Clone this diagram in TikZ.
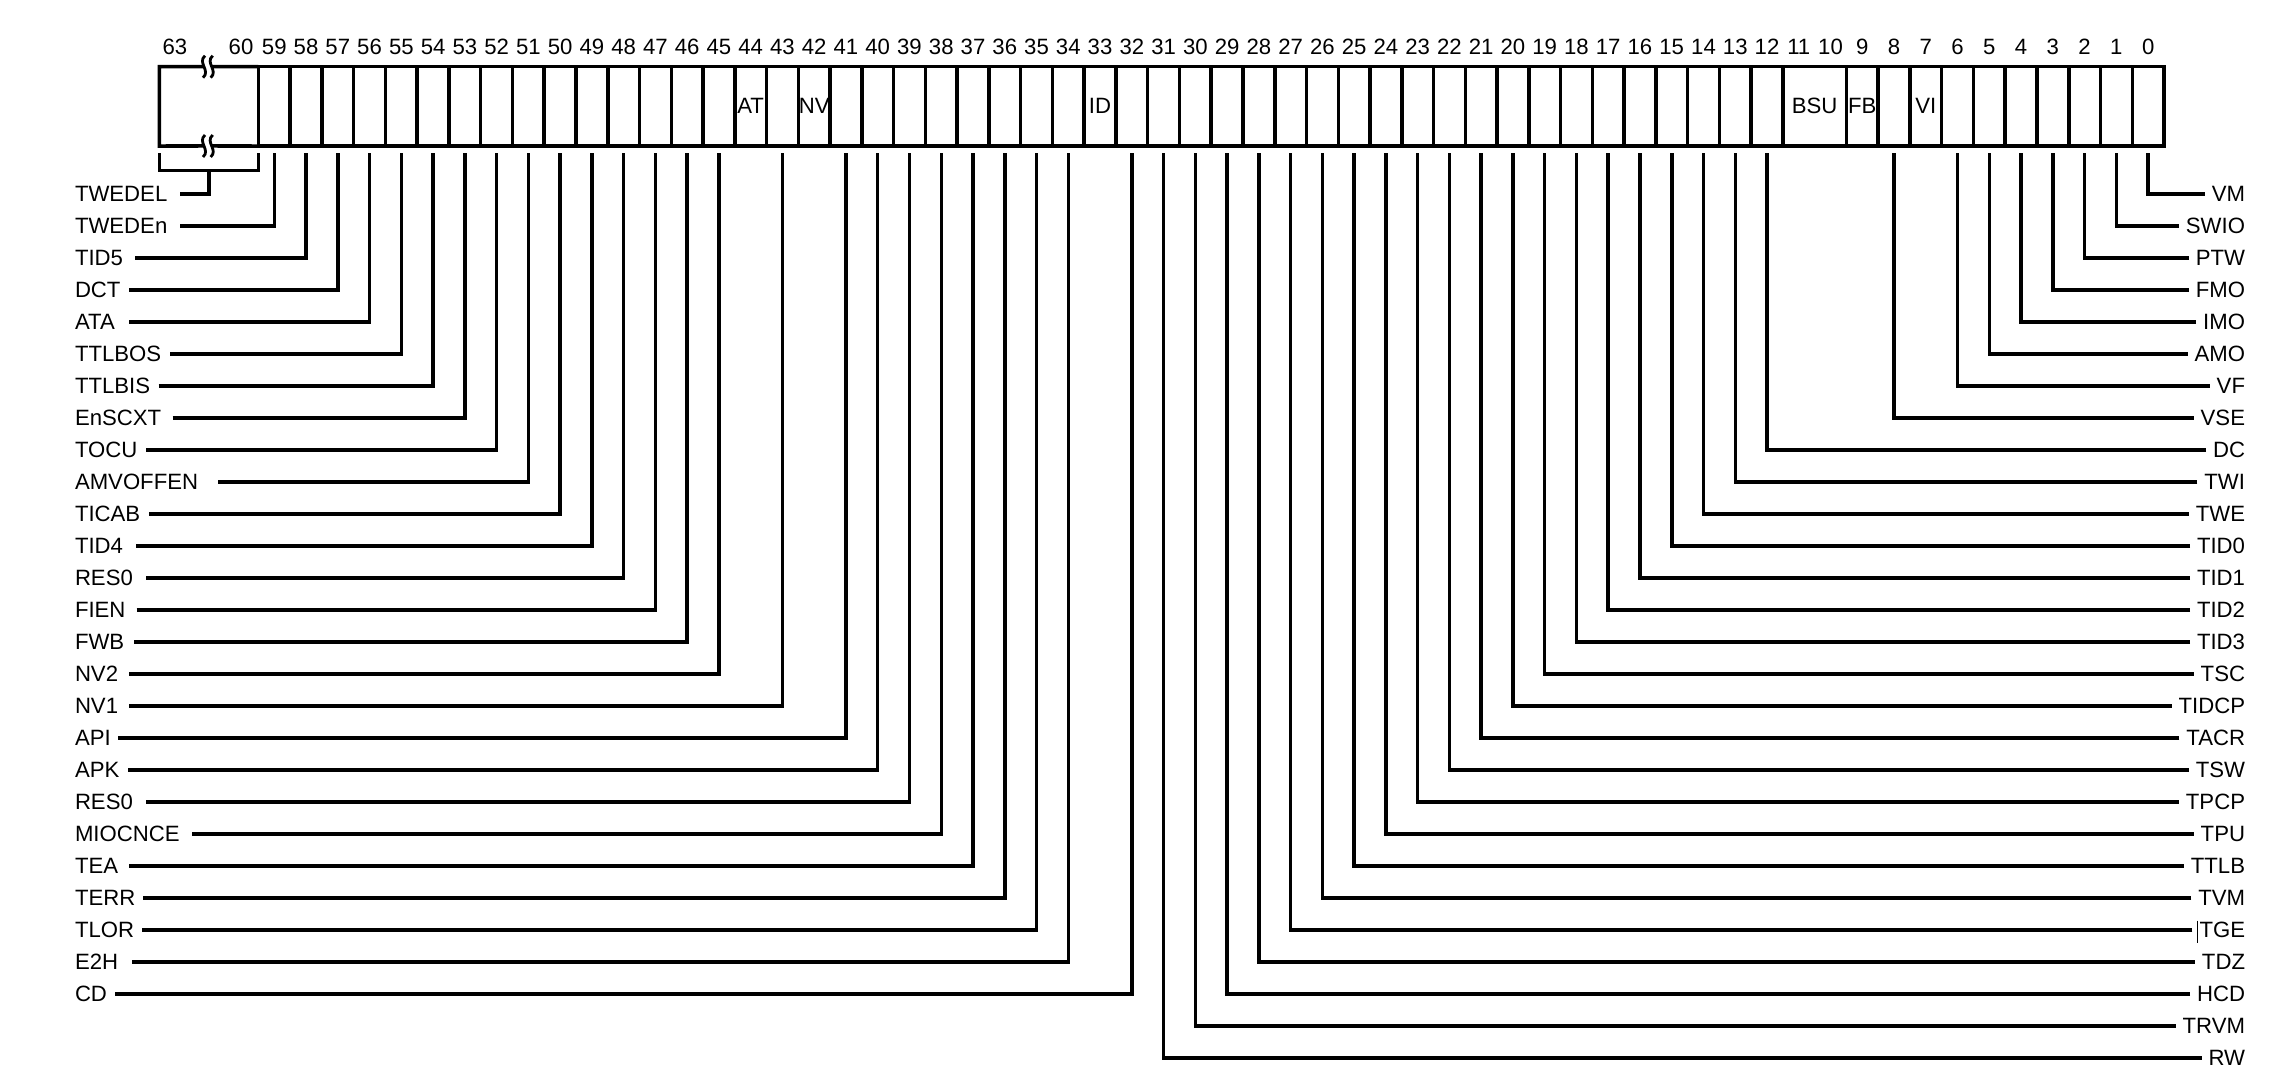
\documentclass[tikz,border=0pt]{standalone}
\usepackage{fontspec}
\setmainfont{Liberation Sans}
\begin{document}
\begin{tikzpicture}[x=0.01cm,y=-0.01cm,
  reg/.style={line width=1pt},
  conn/.style={line width=1pt, line join=miter},
  txt/.style={inner sep=0pt, outer sep=0pt, font=\fontsize{6.3}{7.5}\selectfont},
  cellbox/.style={draw, line width=1pt, inner sep=0pt, outer sep=0pt,
    minimum width=0.3176cm, minimum height=0.793cm, font=\fontsize{6.3}{7.5}\selectfont},
  brk/.style={line width=0.8pt},
]
\useasboundingbox (0,0) rectangle (2280,1086);

% --- register cells ---
\foreach \b in {0,...,9,12,13,...,59}{
  \node[cellbox] (c\b) at ({2164-(\b+0.5)*31.76},106.35) {};
  \node[txt] (n\b) at ({2164-(\b+0.5)*31.76},46.7) {\b};
}
\node[cellbox, minimum width=0.6352cm] (c1110) at ({2164-11*31.76},106.35) {BSU};
\node[txt] (n11) at ({2164-11.5*31.76},46.7) {11};
\node[txt] (n10) at ({2164-10.5*31.76},46.7) {10};
\node[txt] at (c44.center) {AT};
\node[txt] at (c42.center) {NV};
\node[txt] at (c33.center) {ID};
\node[txt] at (c9.center) {FB};
\node[txt] at (c7.center) {VI};

% --- bits 63:60 with break marks ---
\node[inner sep=0pt, outer sep=0pt, minimum width=0.99cm, minimum height=0.793cm] (hi) at (208.8,106.35) {};
\node[txt] (n63) at (175,46.7) {63};
\node[txt] (n60) at (241,46.7) {60};
\draw[reg] (203.5,66.7) -- (hi.north west) -- (hi.south west) -- (203.5,146);
\draw[reg] (212,66.7) -- (c59.north west);
\draw[reg] (212,146) -- (c59.south west);
\foreach \cy in {66.7,146}{
  \foreach \cx in {204,211.7}{
    \draw[brk] (\cx+1,\cy-11) .. controls (\cx-7,\cy-4) and (\cx+7,\cy+4) .. (\cx-1,\cy+11);
  }
}

% --- left labels ---
\node[txt, anchor=west] (l0) at (75,194) {TWEDEL};
\coordinate (ls0) at (180,194);
\coordinate (brkmid) at (208.8,170.7);
\draw[conn] ([yshift=-0.07cm]hi.south west) -- ++(0,17.7) -| ([yshift=-0.07cm]c59.south west);
\draw[conn] (ls0) -| (brkmid);

\foreach \t/\b/\s [count=\i from 1] in {TWEDEn/59/180, TID5/58/135.3, DCT/57/129, ATA/56/129,
  TTLBOS/55/170, TTLBIS/54/158.7, EnSCXT/53/172.7, TOCU/52/146, AMVOFFEN/51/218.3,
  TICAB/50/149.3, TID4/49/136, RES0/48/146, FIEN/47/136.7, FWB/46/134, NV2/45/129,
  NV1/43/129, API/41/118.3, APK/40/128.3, RES0/39/146, MIOCNCE/38/192.3, TEA/37/129,
  TERR/36/143.3, TLOR/35/142, E2H/34/132.3, CD/32/115}{
  \node[txt, anchor=west] (l\i) at (75,{194+32*\i}) {\t};
  \coordinate (ls\i) at (\s,{194+32*\i});
  \draw[conn] (ls\i) -| ([yshift=-0.07cm]c\b.south);
}

% --- right labels ---
\foreach \t/\b [count=\i from 0] in {VM/0, SWIO/1, PTW/2, FMO/3, IMO/4, AMO/5, VF/6, VSE/8,
  DC/12, TWI/13, TWE/14, TID0/15, TID1/16, TID2/17, TID3/18, TSC/19, TIDCP/20, TACR/21,
  TSW/22, TPCP/23, TPU/24, TTLB/25, TVM/26, TGE/27, TDZ/28, HCD/29, TRVM/30, RW/31}{
  \node[txt, anchor=east] (r\i) at (2245,{194+32*\i}) {\t};
  \draw[conn] ([xshift=-0.07cm]r\i.west) -| ([yshift=-0.07cm]c\b.south);
}
% caret mark before TGE
\draw[line width=0.35pt] ([xshift=-0.02cm,yshift=0.093cm]r23.west) -- ([xshift=-0.02cm,yshift=-0.133cm]r23.west);
\end{tikzpicture}
\end{document}
